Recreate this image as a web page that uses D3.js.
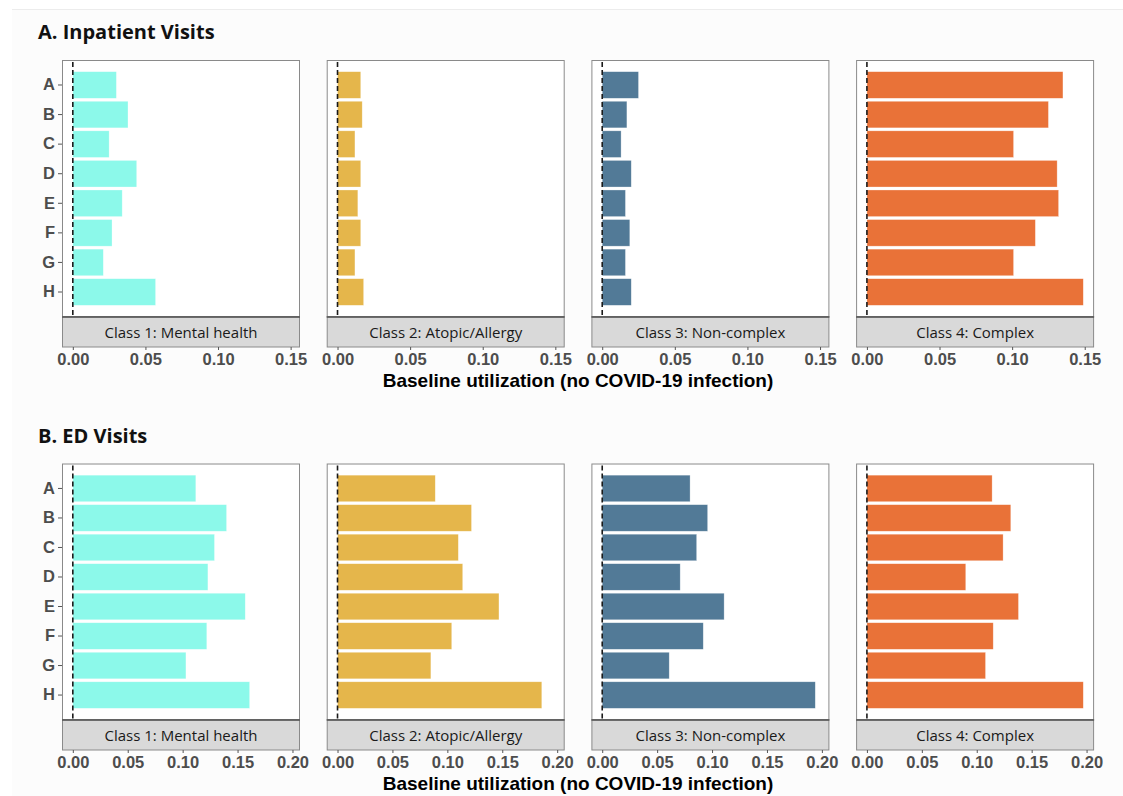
<!DOCTYPE html>
<html>
<head>
<meta charset="utf-8">
<script src="https://cdn.jsdelivr.net/npm/d3@7"></script>
<style>
  body { margin: 0; background: #ffffff; }
</style>
</head>
<body>
<svg width="1123" height="796"></svg>
<script>
// categories and facets
var categories = ["A", "B", "C", "D", "E", "F", "G", "H"];
var classNames = ["Class 1: Mental health", "Class 2: Atopic/Allergy", "Class 3: Non-complex", "Class 4: Complex"];
var classColors = ["#8cf9ea", "#e5b64b", "#527a97", "#e97238"];

// A. Inpatient visits, per class
var inpatientMental = [0.030, 0.038, 0.025, 0.044, 0.034, 0.027, 0.021, 0.057];
var inpatientAtopic = [0.016, 0.017, 0.012, 0.016, 0.014, 0.016, 0.012, 0.018];
var inpatientNonComplex = [0.025, 0.017, 0.013, 0.020, 0.016, 0.019, 0.016, 0.020];
var inpatientComplex = [0.135, 0.125, 0.101, 0.131, 0.132, 0.116, 0.101, 0.149];

// B. ED visits, per class
var edMental = [0.112, 0.140, 0.129, 0.123, 0.157, 0.122, 0.103, 0.161];
var edAtopic = [0.089, 0.122, 0.110, 0.114, 0.147, 0.104, 0.085, 0.186];
var edNonComplex = [0.080, 0.096, 0.086, 0.071, 0.111, 0.092, 0.061, 0.194];
var edComplex = [0.114, 0.131, 0.124, 0.090, 0.138, 0.115, 0.108, 0.197];

var topTicks = [0, 0.05, 0.10, 0.15];
var bottomTicks = [0, 0.05, 0.10, 0.15, 0.20];
var axisTitle = "Baseline utilization (no COVID-19 infection)";

var svg = d3.select("svg");

// page background
svg.append("rect")
    .attr("x", 12).attr("y", 9)
    .attr("width", 1111).attr("height", 787)
    .attr("fill", "#fcfcfc");
svg.append("line")
    .attr("x1", 12).attr("x2", 1123).attr("y1", 9.5).attr("y2", 9.5)
    .attr("stroke", "#ececec");

var rows = [
    {title: "A. Inpatient Visits", titleY: 39, top: 60, bottom: 317, stripH: 30,
     series: [inpatientMental, inpatientAtopic, inpatientNonComplex, inpatientComplex],
     ticks: topTicks},
    {title: "B. ED Visits", titleY: 443, top: 463.5, bottom: 720, stripH: 30,
     series: [edMental, edAtopic, edNonComplex, edComplex],
     ticks: bottomTicks}
];

var panelLeft = 62, panelWidth = 238, panelStep = 264.7;

rows.forEach(function(row) {
    svg.append("text")
        .attr("x", 38)
        .attr("y", row.titleY)
        .style("font-family", "'Open Sans', sans-serif")
        .style("font-weight", "bold")
        .style("font-size", "20px")
        .style("fill", "#111")
        .text(row.title);

    // shared x domain for the row, with ggplot-style 5% expansion
    var maxVal = d3.max(row.series, function(s) { return d3.max(s); });
    var pad = maxVal * 0.05;

    var y = d3.scaleBand()
        .domain(categories)
        .range([row.top, row.bottom])
        .paddingInner(0.1)
        .paddingOuter(0.395);

    row.series.forEach(function(values, i) {
        var x0 = panelLeft + i * panelStep;
        var x = d3.scaleLinear()
            .domain([-pad, maxVal + pad])
            .range([x0, x0 + panelWidth]);

        var g = svg.append("g");

        // panel background
        g.append("rect")
            .attr("x", x0).attr("y", row.top)
            .attr("width", panelWidth).attr("height", row.bottom - row.top)
            .attr("fill", "#ffffff");

        // bars
        g.selectAll("rect.bar")
            .data(values)
            .enter().append("rect")
            .attr("class", "bar")
            .attr("x", x(0))
            .attr("y", function(d, j) { return y(categories[j]); })
            .attr("width", function(d) { return x(d) - x(0); })
            .attr("height", y.bandwidth())
            .attr("fill", classColors[i])
            .attr("stroke", "#ffffff")
            .attr("stroke-opacity", 0.5)
            .attr("stroke-width", 0.6);

        // dashed reference line at zero
        g.append("line")
            .attr("x1", x(0)).attr("x2", x(0))
            .attr("y1", row.top + 2).attr("y2", row.bottom)
            .attr("stroke", "#1a1a1a")
            .attr("stroke-width", 1.6)
            .attr("stroke-dasharray", "5,3");

        // panel border
        g.append("rect")
            .attr("x", x0 + 0.5).attr("y", row.top + 0.5)
            .attr("width", panelWidth - 1).attr("height", row.bottom - row.top - 1)
            .attr("fill", "none")
            .attr("stroke", "#8a8a8a");

        // facet strip (below the panel)
        g.append("rect")
            .attr("x", x0 + 0.5).attr("y", row.bottom)
            .attr("width", panelWidth - 1).attr("height", row.stripH)
            .attr("fill", "#d9d9d9")
            .attr("stroke", "#8a8a8a");
        g.append("line")
            .attr("x1", x0).attr("x2", x0 + panelWidth)
            .attr("y1", row.bottom).attr("y2", row.bottom)
            .attr("stroke", "#555")
            .attr("stroke-width", 1.5);
        g.append("text")
            .attr("x", x0 + panelWidth / 2)
            .attr("y", row.bottom + row.stripH / 2 + 5.5)
            .attr("text-anchor", "middle")
            .style("font-family", "'Open Sans', sans-serif")
            .style("font-size", "15px")
            .style("fill", "#1a1a1a")
            .text(classNames[i]);

        // x axis under the strip
        var xAxis = g.append("g")
            .attr("transform", "translate(0," + (row.bottom + row.stripH) + ")")
            .call(d3.axisBottom(x).tickValues(row.ticks).tickFormat(d3.format(".2f"))
                .tickSize(3).tickPadding(3));
        xAxis.select(".domain").remove();
        xAxis.selectAll(".tick line").attr("stroke", "#555");
        xAxis.selectAll(".tick text")
            .style("font-family", "'Liberation Sans', Arial, sans-serif")
            .style("font-weight", "bold")
            .style("font-size", "16.5px")
            .style("fill", "#4d4d4d");

        // y axis only on the first panel
        if (i === 0) {
            var yAxis = g.append("g")
                .attr("transform", "translate(" + x0 + ",0)")
                .call(d3.axisLeft(y).tickSize(4).tickPadding(3));
            yAxis.select(".domain").remove();
            yAxis.selectAll(".tick line").attr("stroke", "#555");
            yAxis.selectAll(".tick text")
                .style("font-family", "'Liberation Sans', Arial, sans-serif")
                .style("font-weight", "bold")
                .style("font-size", "16.5px")
                .style("fill", "#4d4d4d");
        }
    });

    // shared x axis title
    svg.append("text")
        .attr("x", 578)
        .attr("y", row.bottom + row.stripH + 40)
        .attr("text-anchor", "middle")
        .style("font-family", "'Liberation Sans', Arial, sans-serif")
        .style("font-weight", "bold")
        .style("font-size", "19px")
        .style("fill", "#000")
        .text(axisTitle);
});
</script>
</body>
</html>
